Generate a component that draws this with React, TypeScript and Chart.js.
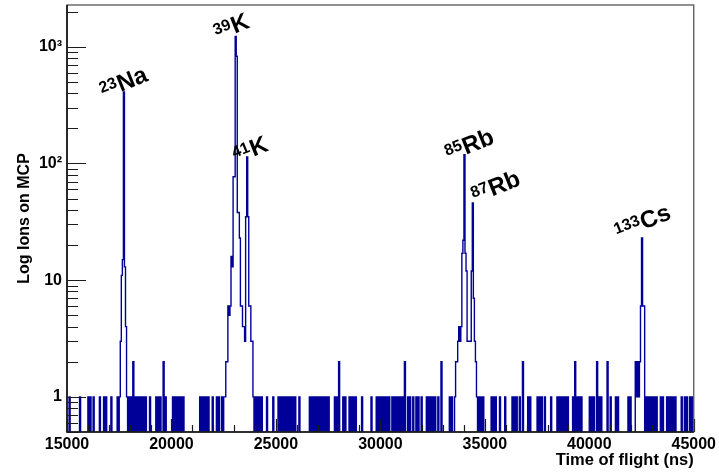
import React, { useEffect, useRef } from "react";
import { Chart, registerables } from "chart.js";

Chart.register(...registerables);

// ---- axis settings ----
const X_MIN = 15000;
const X_MAX = 45000;
const X_MAJOR_STEP = 5000;
const X_MINOR_STEP = 1000;
const Y_MIN = 0.5;
const Y_MAX = 2280;
const BIN_START = 15000; // ns
const BIN_WIDTH = 50; // ns
const BIN_COUNT = 600;

const xTickValues = [15000, 20000, 25000, 30000, 35000, 40000, 45000];
const yTickValues = [1, 10, 100, 1000];
const yTickLabels = ["1", "10", "10²", "10³"];

// ---- histogram contents (bin start times in ns) ----
const singleCountTimes = [
  15100, 15600, 16000, 16100, 16250, 16550, 16750, 16850, 17100, 17400, 17500,
  17850, 17950, 18050, 18250, 18350, 18450, 18550, 18650, 18750, 18950, 19250,
  19350, 19450, 19700, 20050, 20150, 20250, 20350, 20450, 20550, 21350, 21450,
  21550, 21650, 21750, 21950, 22150, 22250, 22400, 22500,
  24000, 24100, 24200, 24300, 24550, 24850, 25100, 25200, 25300, 25400, 25500,
  25600, 25700, 25800, 25900, 26100, 26600, 26700, 26800, 26900, 27000, 27100,
  27200, 27300, 27400, 27500, 27800, 27900, 28200, 28300, 28500, 28600, 28700,
  28800, 29100, 29550, 29800, 29900, 30000, 30100, 30200, 30300, 30400, 30550,
  30650, 30750, 30850, 30950, 31050, 31300, 31400, 31550, 31700, 31800, 31950,
  32200, 32300, 32400, 32500, 32600, 32750, 33300, 33400,
  34700, 34800, 34900, 35300, 35400, 35500, 35700, 35950, 36300, 36400, 36500,
  36650, 37050, 37150, 37500, 37600, 37700, 37850, 38150, 38450, 38550, 38650,
  38750, 38850, 38950, 39200, 39400, 39500, 39600, 40000, 40100, 40200, 40450,
  40550, 41000, 41250, 41350, 41850, 41950,
  42700, 42800, 42900, 43000, 43100, 43200, 43400, 43500, 43700, 43800, 43900,
  44000, 44100, 44400, 44550, 44650, 44800, 44900,
];
const doubleCountTimes = [18150, 19600, 28000, 31150, 32900, 36800, 39300, 40350, 40850];

const naPeakTimes = [17550, 17600, 17650, 17700, 17750, 17800];
const naPeakCounts = [3, 11, 15, 410, 13, 4];

const kPeakTimes = [
  22550, 22600, 22650, 22700, 22750, 22800, 22850, 22900, 22950, 23000, 23050,
  23100, 23150, 23200, 23250, 23300, 23350, 23400, 23450, 23500, 23550, 23600,
  23650, 23700, 23750, 23800, 23850, 23900,
];
const kPeakCounts = [
  1, 2, 2, 6, 5, 6, 16, 13, 77, 77, 1225, 830, 38, 38, 23, 6, 6, 4, 4, 3, 35,
  114, 35, 6, 6, 3, 3, 1,
];

const rbPeakTimes = [
  33550, 33600, 33650, 33700, 33750, 33800, 33850, 33900, 33950, 34000, 34050,
  34100, 34150, 34200, 34250, 34300, 34350, 34400, 34450, 34500, 34550, 34600,
];
const rbPeakCounts = [1, 2, 2, 3, 4, 3, 4, 17, 22, 119, 17, 12, 3, 3, 3, 3, 12, 46, 7, 3, 2, 1];

const csPeakTimes = [42200, 42250, 42300, 42350, 42400, 42450, 42500, 42550, 42600];
const csPeakCounts = [2, 1, 2, 1, 2, 6, 23, 6, 6];

// ---- peak annotations (start of element text, in data coordinates) ----
const labelMass = ["23", "39", "41", "85", "87", "133"];
const labelElement = ["Na", "K", "K", "Rb", "Rb", "Cs"];
const labelTime = [17570, 23030, 23930, 34100, 35350, 42610];
const labelCount = [410, 1290, 114, 119, 52, 27];

const FONT_FAMILY = '"Liberation Sans", Arial, Helvetica, sans-serif';
const HIST_COLOR = "#000098";
const ZERO_DRAW = 0.1; // empty bins are drawn below the axis minimum (hidden)
const LABEL_ANGLE = (22 * Math.PI) / 180;

function buildCounts(): number[] {
  const c: number[] = new Array(BIN_COUNT).fill(0);
  const set = (t: number, v: number) => {
    const i = Math.round((t - BIN_START) / BIN_WIDTH);
    if (i >= 0 && i < BIN_COUNT) c[i] = v;
  };
  singleCountTimes.forEach((t) => set(t, 1));
  doubleCountTimes.forEach((t) => set(t, 2));
  const groups: [number[], number[]][] = [
    [naPeakTimes, naPeakCounts],
    [kPeakTimes, kPeakCounts],
    [rbPeakTimes, rbPeakCounts],
    [csPeakTimes, csPeakCounts],
  ];
  groups.forEach(([ts, vs]) => ts.forEach((t, j) => set(t, vs[j])));
  return c;
}

function buildOutline(counts: number[]) {
  const pts: { x: number; y: number }[] = [];
  counts.forEach((v, i) => {
    const x0 = BIN_START + i * BIN_WIDTH;
    const x1 = x0 + BIN_WIDTH;
    const y = v > 0 ? v : ZERO_DRAW;
    pts.push({ x: x0, y }, { x: x1, y });
  });
  return pts;
}

const rootStylePlugin = {
  id: "rootStyle",
  afterDraw(chart: any) {
    const { ctx, chartArea: a, scales } = chart;
    const xs = scales.x;
    const ys = scales.y;
    ctx.save();

    // ticks (inside the frame, ROOT style)
    ctx.strokeStyle = "#1a1a1a";
    ctx.lineWidth = 1.2;
    ctx.beginPath();
    for (let t = X_MIN; t <= X_MAX; t += X_MINOR_STEP) {
      const px = Math.round(xs.getPixelForValue(t)) + 0.5;
      const len = (t - X_MIN) % X_MAJOR_STEP === 0 ? 13 : 7;
      ctx.moveTo(px, a.bottom);
      ctx.lineTo(px, a.bottom - len);
    }
    for (let e = -1; e <= 3; e++) {
      for (let m = 1; m <= 9; m++) {
        const v = m * Math.pow(10, e);
        if (v < Y_MIN || v > Y_MAX) continue;
        const py = Math.round(ys.getPixelForValue(v)) + 0.5;
        const len = m === 1 ? 19 : 11;
        ctx.moveTo(a.left, py);
        ctx.lineTo(a.left + len, py);
      }
    }
    ctx.stroke();

    // frame
    ctx.strokeStyle = "#555";
    ctx.lineWidth = 1.3;
    ctx.strokeRect(a.left, a.top, a.right - a.left, a.bottom - a.top);
    ctx.strokeStyle = "#111";
    ctx.lineWidth = 1.6;
    ctx.beginPath();
    ctx.moveTo(a.left, a.top);
    ctx.lineTo(a.left, a.bottom);
    ctx.lineTo(a.right, a.bottom);
    ctx.stroke();

    // peak labels
    ctx.fillStyle = "#000";
    ctx.textBaseline = "alphabetic";
    labelTime.forEach((t, i) => {
      const px = xs.getPixelForValue(t);
      const py = ys.getPixelForValue(labelCount[i]);
      ctx.save();
      ctx.translate(px, py);
      ctx.rotate(-LABEL_ANGLE);
      ctx.font = `bold 16px ${FONT_FAMILY}`;
      ctx.textAlign = "right";
      ctx.fillText(labelMass[i], -0.5, -6);
      ctx.font = `bold 24px ${FONT_FAMILY}`;
      ctx.textAlign = "left";
      ctx.fillText(labelElement[i], 0, 0);
      ctx.restore();
    });
    ctx.restore();
  },
};

export default function App() {
  const canvasRef = useRef<HTMLCanvasElement | null>(null);

  useEffect(() => {
    document.body.style.margin = "0";
    const canvas = canvasRef.current;
    if (!canvas) return;
    const counts = buildCounts();
    const chart = new Chart(canvas, {
      type: "line",
      data: {
        datasets: [
          {
            data: buildOutline(counts),
            borderColor: HIST_COLOR,
            borderWidth: 1.4,
            pointRadius: 0,
            fill: false,
            tension: 0,
          },
        ],
      },
      options: {
        animation: false,
        responsive: false,
        events: [],
        layout: { padding: { top: 5, right: 24, left: 0, bottom: 0 } },
        plugins: { legend: { display: false }, tooltip: { enabled: false } },
        scales: {
          x: {
            type: "linear",
            min: X_MIN,
            max: X_MAX,
            grid: { display: false, drawTicks: false },
            border: { display: false },
            afterBuildTicks: (s: any) => {
              s.ticks = xTickValues.map((v) => ({ value: v }));
            },
            ticks: {
              padding: 3,
              color: "#000",
              maxRotation: 0,
              autoSkip: false,
              font: { family: FONT_FAMILY, size: 16, weight: "bold", lineHeight: 1.2 },
              callback: (v: any) => String(v),
            },
            title: {
              display: true,
              text: "Time of flight (ns)",
              align: "end",
              color: "#000",
              padding: { top: 0, bottom: 2 },
              font: { family: FONT_FAMILY, size: 16.5, weight: "bold", lineHeight: 1.2 },
            },
            afterFit: (s: any) => {
              s.height = 40;
            },
          },
          y: {
            type: "logarithmic",
            min: Y_MIN,
            max: Y_MAX,
            bounds: "data",
            grid: { display: false, drawTicks: false },
            border: { display: false },
            afterBuildTicks: (s: any) => {
              s.ticks = yTickValues.map((v) => ({ value: v }));
            },
            ticks: {
              padding: 5,
              color: "#000",
              autoSkip: false,
              font: { family: FONT_FAMILY, size: 16, weight: "bold", lineHeight: 1.2 },
              callback: (_v: any, i: number) => yTickLabels[i],
            },
            title: {
              display: true,
              text: "Log Ions on MCP",
              color: "#000",
              padding: { top: 14.6, bottom: 0 },
              font: { family: FONT_FAMILY, size: 16, weight: "bold", lineHeight: 1.2 },
            },
            afterFit: (s: any) => {
              s.width = 67;
              s.paddingTop = 0;
              s.paddingBottom = 0;
            },
          },
        },
      } as any,
      plugins: [rootStylePlugin],
    });
    return () => chart.destroy();
  }, []);

  return (
    <div style={{ width: 719, height: 472 }}>
      <canvas ref={canvasRef} width={719} height={472} style={{ display: "block" }} />
    </div>
  );
}
